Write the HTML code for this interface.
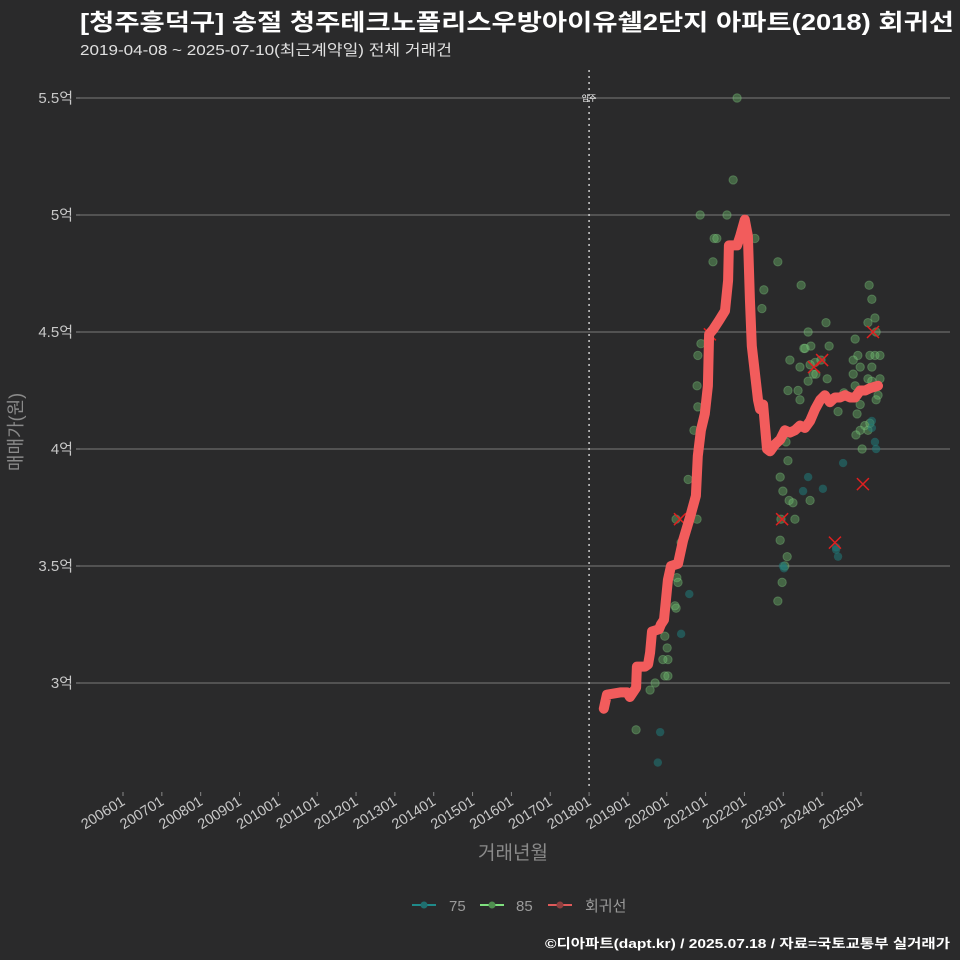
<!DOCTYPE html>
<html><head><meta charset="utf-8"><style>
html,body{margin:0;padding:0;background:#2a2a2b;}
svg{display:block;font-family:"Liberation Sans","Noto Sans CJK KR",sans-serif;}
</style></head><body>
<svg id="chart" width="960" height="960" viewBox="0 0 960 960">
<rect width="960" height="960" fill="#2a2a2b"/>
<text x="80" y="30" fill="#ffffff" font-size="23" font-weight="bold" textLength="874" lengthAdjust="spacingAndGlyphs">[청주흥덕구] 송절 청주테크노폴리스우방아이유쉘2단지 아파트(2018) 회귀선</text>
<text x="80" y="55" fill="#e0e0e0" font-size="15" textLength="372" lengthAdjust="spacingAndGlyphs">2019-04-08 ~ 2025-07-10(최근계약일) 전체 거래건</text>
<g id="grid"></g>
<g id="xaxis"></g>
<g id="marks"></g>
<text transform="translate(22,432) rotate(-90)" text-anchor="middle" fill="#8a8a8a" font-size="18">매매가(원)</text>
<text x="513" y="859" text-anchor="middle" fill="#8a8a8a" font-size="19">거래년월</text>
<g>
 <g><line x1="412" y1="905" x2="436" y2="905" stroke="#1f8a8a" stroke-width="2"/><circle cx="424" cy="905" r="3.5" fill="#1f6f6f"/><text x="449" y="911" fill="#9a9a9a" font-size="15">75</text></g>
 <g><line x1="480" y1="905" x2="504" y2="905" stroke="#7fe07f" stroke-width="2"/><circle cx="492" cy="905" r="3.5" fill="#4f8f4f"/><text x="516" y="911" fill="#9a9a9a" font-size="15">85</text></g>
 <g><line x1="548" y1="905" x2="572" y2="905" stroke="#e05a5a" stroke-width="2"/><circle cx="560" cy="905" r="3.5" fill="#8f3f3f"/><text x="585" y="911" fill="#9a9a9a" font-size="15">회귀선</text></g>
</g>
<text x="950" y="948" text-anchor="end" fill="#ffffff" font-size="13" font-weight="bold" textLength="405" lengthAdjust="spacingAndGlyphs">©디아파트(dapt.kr) / 2025.07.18 / 자료=국토교통부 실거래가</text>
</svg>
<script>
const yTicks=[3,3.5,4,4.5,5,5.5];
const yTickLabels=["3억","3.5억","4억","4.5억","5억","5.5억"];
const xTickYears=[2006,2007,2008,2009,2010,2011,2012,2013,2014,2015,2016,2017,2018,2019,2020,2021,2022,2023,2024,2025];
const xTickLabels=["200601","200701","200801","200901","201001","201101","201201","201301","201401","201501","201601","201701","201801","201901","202001","202101","202201","202301","202401","202501"];
const moveInYear=2018;
const lineT=[2018.38,2018.46,2018.80,2018.98,2019.05,2019.21,2019.23,2019.44,2019.52,2019.57,2019.62,2019.80,2019.85,2019.93,2020.03,2020.11,2020.29,2020.42,2020.60,2020.75,2020.80,2020.88,2020.98,2021.06,2021.09,2021.19,2021.35,2021.50,2021.58,2021.60,2021.81,2021.89,2022.01,2022.09,2022.14,2022.19,2022.35,2022.40,2022.48,2022.58,2022.66,2022.79,2022.92,2023.04,2023.17,2023.30,2023.43,2023.56,2023.69,2023.82,2023.95,2024.07,2024.20,2024.33,2024.46,2024.59,2024.72,2024.85,2024.98,2025.11,2025.23,2025.44];
const lineV=[2.89,2.95,2.96,2.96,2.94,2.98,3.07,3.07,3.08,3.13,3.22,3.23,3.25,3.27,3.44,3.50,3.51,3.61,3.71,3.80,3.97,4.08,4.15,4.27,4.49,4.51,4.55,4.59,4.72,4.87,4.87,4.91,4.98,4.91,4.64,4.44,4.21,4.17,4.19,4.00,3.99,4.02,4.04,4.08,4.07,4.08,4.10,4.09,4.12,4.17,4.21,4.23,4.20,4.22,4.22,4.23,4.22,4.22,4.25,4.25,4.26,4.27];
const g85T=[2021.81,2020.86,2021.55,2021.71,2021.22,2021.29,2021.19,2022.27,2022.86,2022.45,2022.50,2020.88,2020.80,2020.78,2020.80,2020.70,2020.55,2020.24,2020.78,2020.37,2020.26,2020.29,2020.24,2020.21,2019.95,2020.01,2020.03,2019.90,2019.95,2020.03,2019.57,2019.21,2019.70,2023.17,2023.46,2023.64,2023.53,2023.71,2023.56,2023.43,2023.82,2023.77,2023.84,2023.97,2024.18,2024.13,2024.10,2023.69,2023.64,2023.38,2023.12,2023.43,2023.02,2023.07,2023.12,2022.92,2022.99,2023.15,2023.25,2023.30,2022.94,2022.92,2022.97,2023.04,2022.86,2023.10,2023.69,2025.21,2025.28,2025.18,2025.36,2025.39,2024.85,2024.92,2025.23,2025.36,2025.49,2024.80,2024.98,2025.28,2025.18,2024.80,2024.85,2025.49,2025.28,2024.90,2024.98,2024.90,2025.44,2025.39,2025.10,2024.98,2024.87,2025.18,2025.23,2025.03,2024.56,2024.41];
const g85V=[5.50,5.00,5.00,5.15,4.90,4.90,4.80,4.90,4.80,4.60,4.68,4.45,4.40,4.27,4.18,4.08,3.87,3.70,3.70,3.60,3.45,3.43,3.32,3.33,3.20,3.15,3.10,3.10,3.03,3.03,2.97,2.80,3.00,4.38,4.70,4.50,4.43,4.44,4.43,4.35,4.37,4.32,4.32,4.38,4.44,4.30,4.54,4.36,4.29,4.25,4.25,4.21,4.06,4.03,3.95,3.88,3.82,3.78,3.77,3.70,3.70,3.61,3.43,3.50,3.35,3.54,3.78,4.70,4.64,4.54,4.56,4.50,4.47,4.40,4.40,4.40,4.40,4.38,4.35,4.35,4.30,4.32,4.27,4.30,4.29,4.23,4.19,4.15,4.23,4.21,4.10,4.08,4.06,4.08,4.11,4.00,4.24,4.16];
const g75T=[2019.77,2019.83,2022.99,2023.02,2023.64,2023.51,2025.28,2025.28,2025.36,2025.39,2024.54,2024.36,2024.36,2024.41,2024.02,2020.37,2020.58];
const g75V=[2.66,2.79,3.50,3.49,3.88,3.82,4.12,4.09,4.03,4.00,3.94,3.58,3.57,3.54,3.83,3.21,3.38];
const xT=[2020.34,2021.11,2022.97,2023.79,2024.00,2024.33,2025.05,2025.31];
const xV=[3.70,4.49,3.70,4.35,4.38,3.60,3.85,4.50];

const NS="http://www.w3.org/2000/svg";
const X0=123,PX_PER_YEAR=38.84,Y0=683,PX_PER_UNIT=234;
function sx(t){return X0+(t-2006)*PX_PER_YEAR;}
function sy(v){return Y0-(v-3)*PX_PER_UNIT;}
function mk(tag,attrs,parent){const e=document.createElementNS(NS,tag);for(const k in attrs)e.setAttribute(k,attrs[k]);parent.appendChild(e);return e;}
const grid=document.getElementById('grid'),xa=document.getElementById('xaxis'),marks=document.getElementById('marks');
yTicks.forEach((v,i)=>{
 const l=mk('line',{x1:80,x2:950,y1:sy(v),y2:sy(v),stroke:'#7a7a7a','stroke-width':1},grid);
 
 
 const tk=mk('line',{x1:76,x2:80,y1:sy(v),y2:sy(v),stroke:'#888'},grid);
 
 
 const t=mk('text',{x:73,y:sy(v)+5,'text-anchor':'end',fill:'#c8c8c8','font-size':15},grid);
 t.textContent=yTickLabels[i];
 
 
});
xTickYears.forEach((yr,i)=>{
 const x=sx(yr);
 const tk=mk('line',{x1:x,x2:x,y1:792,y2:796,stroke:'#888'},xa);
 
 
 const t=mk('text',{x:x+3,y:804,'text-anchor':'end',fill:'#c8c8c8','font-size':14.5,transform:`rotate(-32 ${x+3} 804)`},xa);
 t.textContent=xTickLabels[i];
 
 
});
const mx=sx(moveInYear);
const ml=mk('line',{x1:mx,x2:mx,y1:70,y2:790,stroke:'#cccccc','stroke-width':1.5,'stroke-dasharray':'2,4'},grid);


const mt=mk('text',{x:mx,y:101,'text-anchor':'middle',fill:'#ffffff','font-size':8},grid);
mt.textContent='입주';


g85T.forEach((t,i)=>{
 const c=mk('circle',{cx:sx(t),cy:sy(g85V[i]),r:4.2,fill:'#6fbf6f','fill-opacity':0.4,stroke:'#8fdf8f','stroke-opacity':0.3},marks);
 
 
});
g75T.forEach((t,i)=>{
 const c=mk('circle',{cx:sx(t),cy:sy(g75V[i]),r:4.2,fill:'#1f7a7a','fill-opacity':0.55},marks);
 
 
});
xT.forEach((t,i)=>{
 const x=sx(t),y=sy(xV[i]);
 const p=mk('path',{d:`M${x-6} ${y-6}L${x+6} ${y+6}M${x-6} ${y+6}L${x+6} ${y-6}`,stroke:'#e02020','stroke-width':1.5},marks);
 
 
});
const d=lineT.map((t,i)=>(i?'L':'M')+sx(t).toFixed(1)+' '+sy(lineV[i]).toFixed(1)).join('');
const rl=mk('path',{d:d,fill:'none',stroke:'#f25c5c','stroke-width':10,'stroke-linejoin':'round','stroke-linecap':'round'},marks);


</script>
</body></html>
